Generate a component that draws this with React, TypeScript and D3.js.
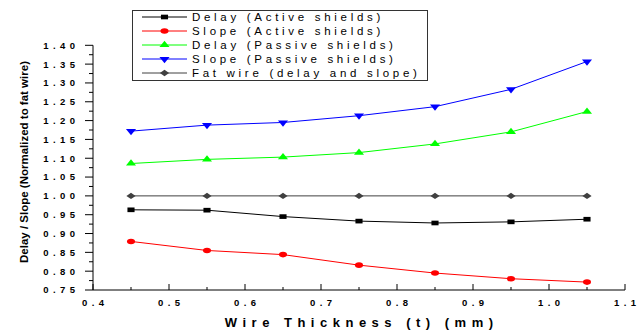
import React, { useEffect, useRef } from "react";
import * as d3 from "d3";

const thickness = [0.45, 0.55, 0.65, 0.75, 0.85, 0.95, 1.05];
const delayActive = [0.963, 0.962, 0.945, 0.933, 0.928, 0.931, 0.938];
const slopeActive = [0.879, 0.855, 0.844, 0.816, 0.795, 0.78, 0.771];
const delayPassive = [1.086, 1.097, 1.103, 1.115, 1.138, 1.17, 1.224];
const slopePassive = [1.172, 1.188, 1.195, 1.213, 1.237, 1.283, 1.357];
const fatWire = [1, 1, 1, 1, 1, 1, 1];

const seriesNames = [
  "Delay (Active shields)",
  "Slope (Active shields)",
  "Delay (Passive shields)",
  "Slope (Passive shields)",
  "Fat wire (delay and slope)",
];
const xTicks = [0.4, 0.5, 0.6, 0.7, 0.8, 0.9, 1.0, 1.1];
const yTicks = [0.75, 0.8, 0.85, 0.9, 0.95, 1.0, 1.05, 1.1, 1.15, 1.2, 1.25, 1.3, 1.35, 1.4];

const FONT = "'Liberation Sans', Arial, sans-serif";

function App() {
  const ref = useRef<SVGSVGElement>(null);

  useEffect(() => {
    if (!ref.current) return;
    const svg = d3.select(ref.current);
    svg.selectAll("*").remove();

    const x = d3.scaleLinear().domain([0.4, 1.1]).range([93, 625]);
    const y = d3.scaleLinear().domain([0.75, 1.4]).range([290, 45.3]);

    const series = [
      { name: seriesNames[0], values: delayActive, color: "#000000", shape: "square" },
      { name: seriesNames[1], values: slopeActive, color: "#ff0000", shape: "circle" },
      { name: seriesNames[2], values: delayPassive, color: "#00ff00", shape: "up" },
      { name: seriesNames[3], values: slopePassive, color: "#0000ff", shape: "down" },
      { name: seriesNames[4], values: fatWire, color: "#404040", shape: "diamond" },
    ];

    // marker path + transform (markers look stretched sideways in the original)
    function marker(g: any, shape: string, cx: number, cy: number, color: string) {
      let path = "";
      let tf = `translate(${cx},${cy})`;
      if (shape === "square") {
        path = d3.symbol().type(d3.symbolSquare).size(30)()!;
        tf += " scale(1.3,0.85)";
      } else if (shape === "circle") {
        path = d3.symbol().type(d3.symbolCircle).size(30)()!;
        tf += " scale(1.3,0.9)";
      } else if (shape === "up") {
        path = d3.symbol().type(d3.symbolTriangle).size(40)()!;
        tf += " scale(1.05,0.75)";
      } else if (shape === "down") {
        path = d3.symbol().type(d3.symbolTriangle).size(40)()!;
        tf += " scale(1.05,0.75) rotate(180)";
      } else {
        path = d3.symbol().type(d3.symbolSquare).size(25)()!;
        tf += " scale(1.3,0.9) rotate(45)";
      }
      g.append("path").attr("d", path).attr("transform", tf).attr("fill", color);
    }

    const line = d3.line<number>()
      .x((_, i) => x(thickness[i]))
      .y((d) => y(d));

    const plot = svg.append("g");
    series.forEach((s) => {
      plot.append("path")
        .datum(s.values)
        .attr("d", line)
        .attr("fill", "none")
        .attr("stroke", s.color)
        .attr("stroke-width", 1);
      s.values.forEach((v, i) => marker(plot, s.shape, x(thickness[i]), y(v), s.color));
    });

    // axes
    const axes = svg.append("g").attr("stroke", "#000").attr("stroke-width", 1);
    axes.append("line").attr("x1", x(0.4)).attr("x2", x(1.1)).attr("y1", y(0.75)).attr("y2", y(0.75));
    axes.append("line").attr("x1", x(0.4)).attr("x2", x(0.4)).attr("y1", y(0.75)).attr("y2", y(1.4));

    // x ticks point up into the plot
    xTicks.forEach((t) => {
      axes.append("line").attr("x1", x(t)).attr("x2", x(t)).attr("y1", y(0.75)).attr("y2", y(0.75) - 6);
    });
    thickness.forEach((t) => {
      axes.append("line").attr("x1", x(t)).attr("x2", x(t)).attr("y1", y(0.75)).attr("y2", y(0.75) - 3);
    });
    // y ticks point out to the left
    yTicks.forEach((t, i) => {
      axes.append("line").attr("x1", x(0.4) - 8).attr("x2", x(0.4)).attr("y1", y(t)).attr("y2", y(t));
      if (i < yTicks.length - 1) {
        const m = (t + yTicks[i + 1]) / 2;
        axes.append("line").attr("x1", x(0.4) - 4).attr("x2", x(0.4)).attr("y1", y(m)).attr("y2", y(m));
      }
    });

    const ls = 4.5;
    svg.append("g").selectAll("text")
      .data(xTicks)
      .enter()
      .append("text")
      .attr("x", (d) => x(d) + ls / 2)
      .attr("y", 306)
      .attr("text-anchor", "middle")
      .attr("font-family", FONT)
      .attr("font-weight", "bold")
      .attr("font-size", 9.5)
      .attr("letter-spacing", ls)
      .text((d) => d.toFixed(1));

    svg.append("g").selectAll("text")
      .data(yTicks)
      .enter()
      .append("text")
      .attr("x", 75 + 4.4)
      .attr("y", (d) => y(d) + 3.4)
      .attr("text-anchor", "end")
      .attr("font-family", FONT)
      .attr("font-weight", "bold")
      .attr("font-size", 9.5)
      .attr("letter-spacing", 4.4)
      .text((d) => d.toFixed(2));

    svg.append("text")
      .attr("x", 359 + 2.7)
      .attr("y", 326.5)
      .attr("text-anchor", "middle")
      .attr("font-family", FONT)
      .attr("font-weight", "bold")
      .attr("font-size", 13)
      .attr("letter-spacing", 5.5)
      .text("Wire Thickness (t) (mm)");

    svg.append("text")
      .attr("transform", "translate(28,162) rotate(-90)")
      .attr("text-anchor", "middle")
      .attr("font-family", FONT)
      .attr("font-weight", "bold")
      .attr("font-size", 11.5)
      .text("Delay / Slope (Normalized to fat wire)");

    // legend
    const legend = svg.append("g");
    legend.append("rect")
      .attr("x", 132.5)
      .attr("y", 10.5)
      .attr("width", 295)
      .attr("height", 70)
      .attr("fill", "#fff")
      .attr("stroke", "#333")
      .attr("stroke-width", 1);

    series.forEach((s, i) => {
      const ry = 17 + i * 14;
      legend.append("line")
        .attr("x1", 142).attr("x2", 187)
        .attr("y1", ry).attr("y2", ry)
        .attr("stroke", s.color).attr("stroke-width", 1);
      marker(legend, s.shape, 164.5, ry, s.color);
      legend.append("text")
        .attr("x", 192)
        .attr("y", ry + 4)
        .attr("font-family", FONT)
        .attr("font-size", 11.5)
        .attr("letter-spacing", 3.7)
        .attr("fill", "#000")
        .text(s.name);
    });
  }, []);

  return (
    <svg
      ref={ref}
      width={642}
      height={333}
      style={{ position: "absolute", left: 0, top: 0, background: "#fff" }}
    />
  );
}

export default App;
